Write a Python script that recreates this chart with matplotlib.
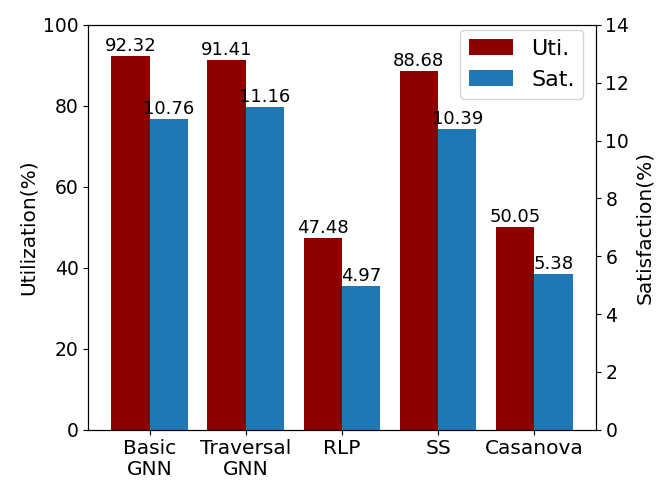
import matplotlib
matplotlib.use("Agg")
import matplotlib.pyplot as plt
import numpy as np

metodos = ["Basic\nGNN", "Traversal\nGNN", "RLP", "SS", "Casanova"]
utilizacion = [92.32, 91.41, 47.48, 88.68, 50.05]
satisfaccion = [10.76, 11.16, 4.97, 10.39, 5.38]

x = np.arange(len(metodos))
ancho = 0.4

fig, ax1 = plt.subplots(figsize=(6.64, 4.98), dpi=100)
fig.subplots_adjust(left=0.133, right=0.897, bottom=0.137, top=0.95)
ax2 = ax1.twinx()

b1 = ax1.bar(x - ancho / 2, utilizacion, ancho, color="#8b0000", label="Uti.")
b2 = ax2.bar(x + ancho / 2, satisfaccion, ancho, color="#1f77b4", label="Sat.")

for r, v in zip(b1, utilizacion):
    ax1.text(r.get_x() + r.get_width() / 2, v + 0.2, "%.2f" % v,
             ha="center", va="bottom", fontsize=13)
for r, v in zip(b2, satisfaccion):
    ax2.text(r.get_x() + r.get_width() / 2, v + 0.03, "%.2f" % v,
             ha="center", va="bottom", fontsize=13)

ax1.set_ylim(0, 100)
ax2.set_ylim(0, 14)
ax1.set_xticks(x)
ax1.set_xticklabels(metodos, fontsize=14.5, linespacing=1.1)
ax1.tick_params(axis="y", labelsize=13.5)
ax2.tick_params(axis="y", labelsize=13.5)
ax1.set_ylabel("Utilization(%)", fontsize=14.5)
ax2.set_ylabel("Satisfaction(%)", fontsize=14.5)

ax1.legend([b1, b2], ["Uti.", "Sat."], loc="upper right", fontsize=16,
           bbox_to_anchor=(0.976, 0.988), borderaxespad=0)

plt.savefig("out.png")
